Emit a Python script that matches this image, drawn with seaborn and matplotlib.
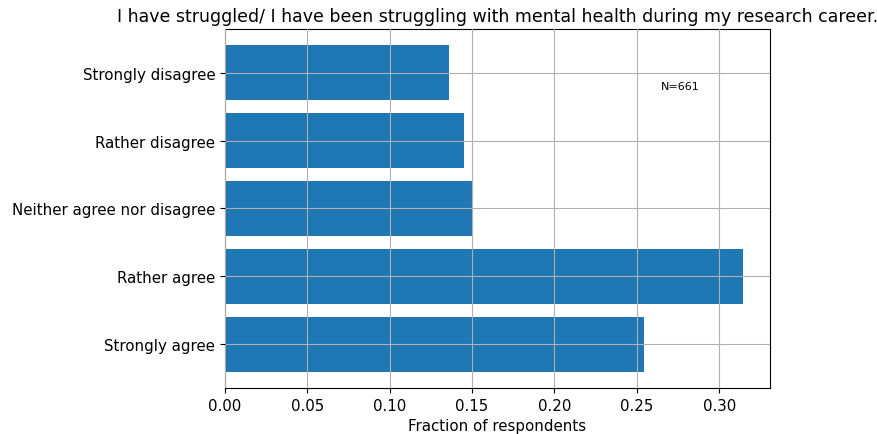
import matplotlib
matplotlib.use("Agg")
import matplotlib.pyplot as plt
import seaborn as sns
import pandas as pd

categories = ["Strongly disagree", "Rather disagree", "Neither agree nor disagree",
              "Rather agree", "Strongly agree"]
fractions = [0.1362, 0.1452, 0.1498, 0.3147, 0.2542]
n_label = "N=661"
title = "I have struggled/ I have been struggling with mental health during my research career."

sns.set_style("ticks")
plt.rcParams['font.family'] = ['DejaVu Sans']
plt.rcParams['text.color'] = 'black'
plt.rcParams['axes.labelcolor'] = 'black'
plt.rcParams['xtick.color'] = 'black'
plt.rcParams['ytick.color'] = 'black'

df = pd.DataFrame({"category": categories, "fraction": fractions})

fig = plt.figure(figsize=(8.78, 4.35), dpi=100)
ax = fig.add_axes([225/878, 1-389/435, (769.3-224.6)/878, (389-30)/435])
sns.barplot(data=df, x="fraction", y="category", orient="h", color="#1f77b4",
            saturation=1, width=0.8, linewidth=0, ax=ax)
ax.set_xlim(0, 0.3307)
ax.set_ylim(4.64, -0.64)
ax.set_axisbelow(False)
ax.grid(True, color="#b0b0b0", linewidth=0.8)
for s in ax.spines.values():
    s.set_visible(True)
    s.set_color("black")
    s.set_linewidth(0.8)
ax.tick_params(labelsize=10.8, direction="out", length=3.5, width=0.8, colors="black")
ax.set_ylabel("")
ax.set_xlabel("Fraction of respondents", fontsize=10.8, color="black")
ax.set_title(title, fontsize=12.5, color="black")
ax.text(0.836, 0.84, n_label, transform=ax.transAxes, ha="center", va="center",
        fontsize=8, color="black")
fig.savefig("out.png", dpi=100)
